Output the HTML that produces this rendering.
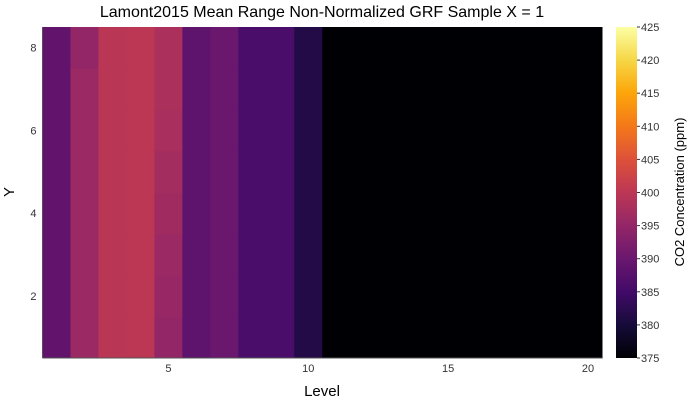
<!DOCTYPE html>
<html><head><meta charset="utf-8"><style>
body{margin:0;background:#fff;}
svg text{font-family:"Liberation Sans","DejaVu Sans",sans-serif;}
</style></head><body>
<svg id="c" width="700" height="400" xmlns="http://www.w3.org/2000/svg">
<defs><linearGradient id="cb" x1="0" y1="1" x2="0" y2="0"></linearGradient></defs>
<text x="322" y="17" font-size="16" text-anchor="middle" fill="#000">Lamont2015 Mean Range Non-Normalized GRF Sample X = 1</text>
<g id="cells"></g>
<g id="axes"></g>
<text x="322" y="396" font-size="15" text-anchor="middle">Level</text>
<text x="14" y="192" font-size="15" text-anchor="middle" transform="rotate(-90 14 192)">Y</text>
<rect x="616" y="27" width="21" height="331" fill="url(#cb)"/>
<g id="cbt"></g>
<text x="684" y="192" font-size="13" text-anchor="middle" transform="rotate(-90 684 192)">CO2 Concentration (ppm)</text>
</svg>
<script>
const levels=[1,2,3,4,5,6,7,8,9,10,11,12,13,14,15,16,17,18,19,20];
const yvals=[1,2,3,4,5,6,7,8];
// rows from y=1 (bottom) to y=8 (top)
const values=[
[389,396,399.8,400,395,388.5,390,386,386,381.5,375,375,375,375,375,375,375,375,375,375],
[389,396,399.8,400,395.5,388.5,390,386,386,381.5,375,375,375,375,375,375,375,375,375,375],
[389,396,399.8,400,396,388.5,390,386,386,381.5,375,375,375,375,375,375,375,375,375,375],
[389,396,399.8,400,396.5,388.5,390,386,386,381.5,375,375,375,375,375,375,375,375,375,375],
[389,396,399.8,400,397,388.5,390,386,386,381.5,375,375,375,375,375,375,375,375,375,375],
[389,396,399.8,400,397.5,388.5,390,386,386,381.5,375,375,375,375,375,375,375,375,375,375],
[389,396,399.8,400,398,388.5,390,386,386,381.5,375,375,375,375,375,375,375,375,375,375],
[389,395,399.8,400,398,388.5,390,386,386,381.5,375,375,375,375,375,375,375,375,375,375]];
const xTicks=[5,10,15,20];
const yTicks=[2,4,6,8];
const cbTicks=[375,380,385,390,395,400,405,410,415,420,425];
const vmin=375,vmax=425;
const X0=42.5,X1=602,Y0=358,Y1=27;
const sx=v=>X0+(v-0.5)/20*(X1-X0);
const sy=v=>Y0-(v-0.5)/8*(Y0-Y1);
const stops=["#000004","#160b39","#420a68","#6a176e","#932667","#bc3754","#dd513a","#f37819","#fca50a","#f6d746","#fcffa4"];
function hx(c){return [1,3,5].map(i=>parseInt(c.substr(i,2),16));}
function cmap(v){let t=Math.max(0,Math.min(1,(v-vmin)/(vmax-vmin)))*10;let i=Math.min(9,Math.floor(t));let f=t-i;let a=hx(stops[i]),b=hx(stops[i+1]);return "rgb("+a.map((x,k)=>Math.round(x+(b[k]-x)*f)).join(",")+")";}
const NS="http://www.w3.org/2000/svg";
function mk(t,at,p){const e=document.createElementNS(NS,t);for(const k in at)e.setAttribute(k,at[k]);p.appendChild(e);return e;}
const cells=document.getElementById('cells');
yvals.forEach((y,r)=>levels.forEach((l,c)=>{
const e=mk('rect',{x:sx(l-0.5),y:sy(y+0.5),width:sx(l+0.5)-sx(l-0.5)+0.5,height:sy(y-0.5)-sy(y+0.5)+0.5,fill:cmap(values[r][c])},cells);


}));
const ax=document.getElementById('axes');
mk('line',{x1:X0,y1:Y0,x2:X1,y2:Y0,stroke:'#555','stroke-width':1},ax);
mk('line',{x1:X0,y1:Y0,x2:X0,y2:Y1,stroke:'#555','stroke-width':1},ax);
xTicks.forEach(t=>{const e=mk('text',{x:sx(t),y:Y0+14,'font-size':11,'text-anchor':'middle',fill:'#333'},ax);e.textContent=t;

});
yTicks.forEach(t=>{const e=mk('text',{x:X0-6,y:sy(t)+4,'font-size':11,'text-anchor':'end',fill:'#333'},ax);e.textContent=t;

});
const g=document.getElementById('cb');
for(let i=0;i<=20;i++){mk('stop',{offset:(i/20),'stop-color':cmap(vmin+(vmax-vmin)*i/20)},g);}
const cbt=document.getElementById('cbt');
cbTicks.forEach(t=>{const y=358-(t-vmin)/(vmax-vmin)*331;
mk('line',{x1:637,y1:y,x2:640,y2:y,stroke:'#333'},cbt);
const e=mk('text',{x:641,y:y+4,'font-size':11,fill:'#333'},cbt);e.textContent=t;

});
</script>
</body></html>
